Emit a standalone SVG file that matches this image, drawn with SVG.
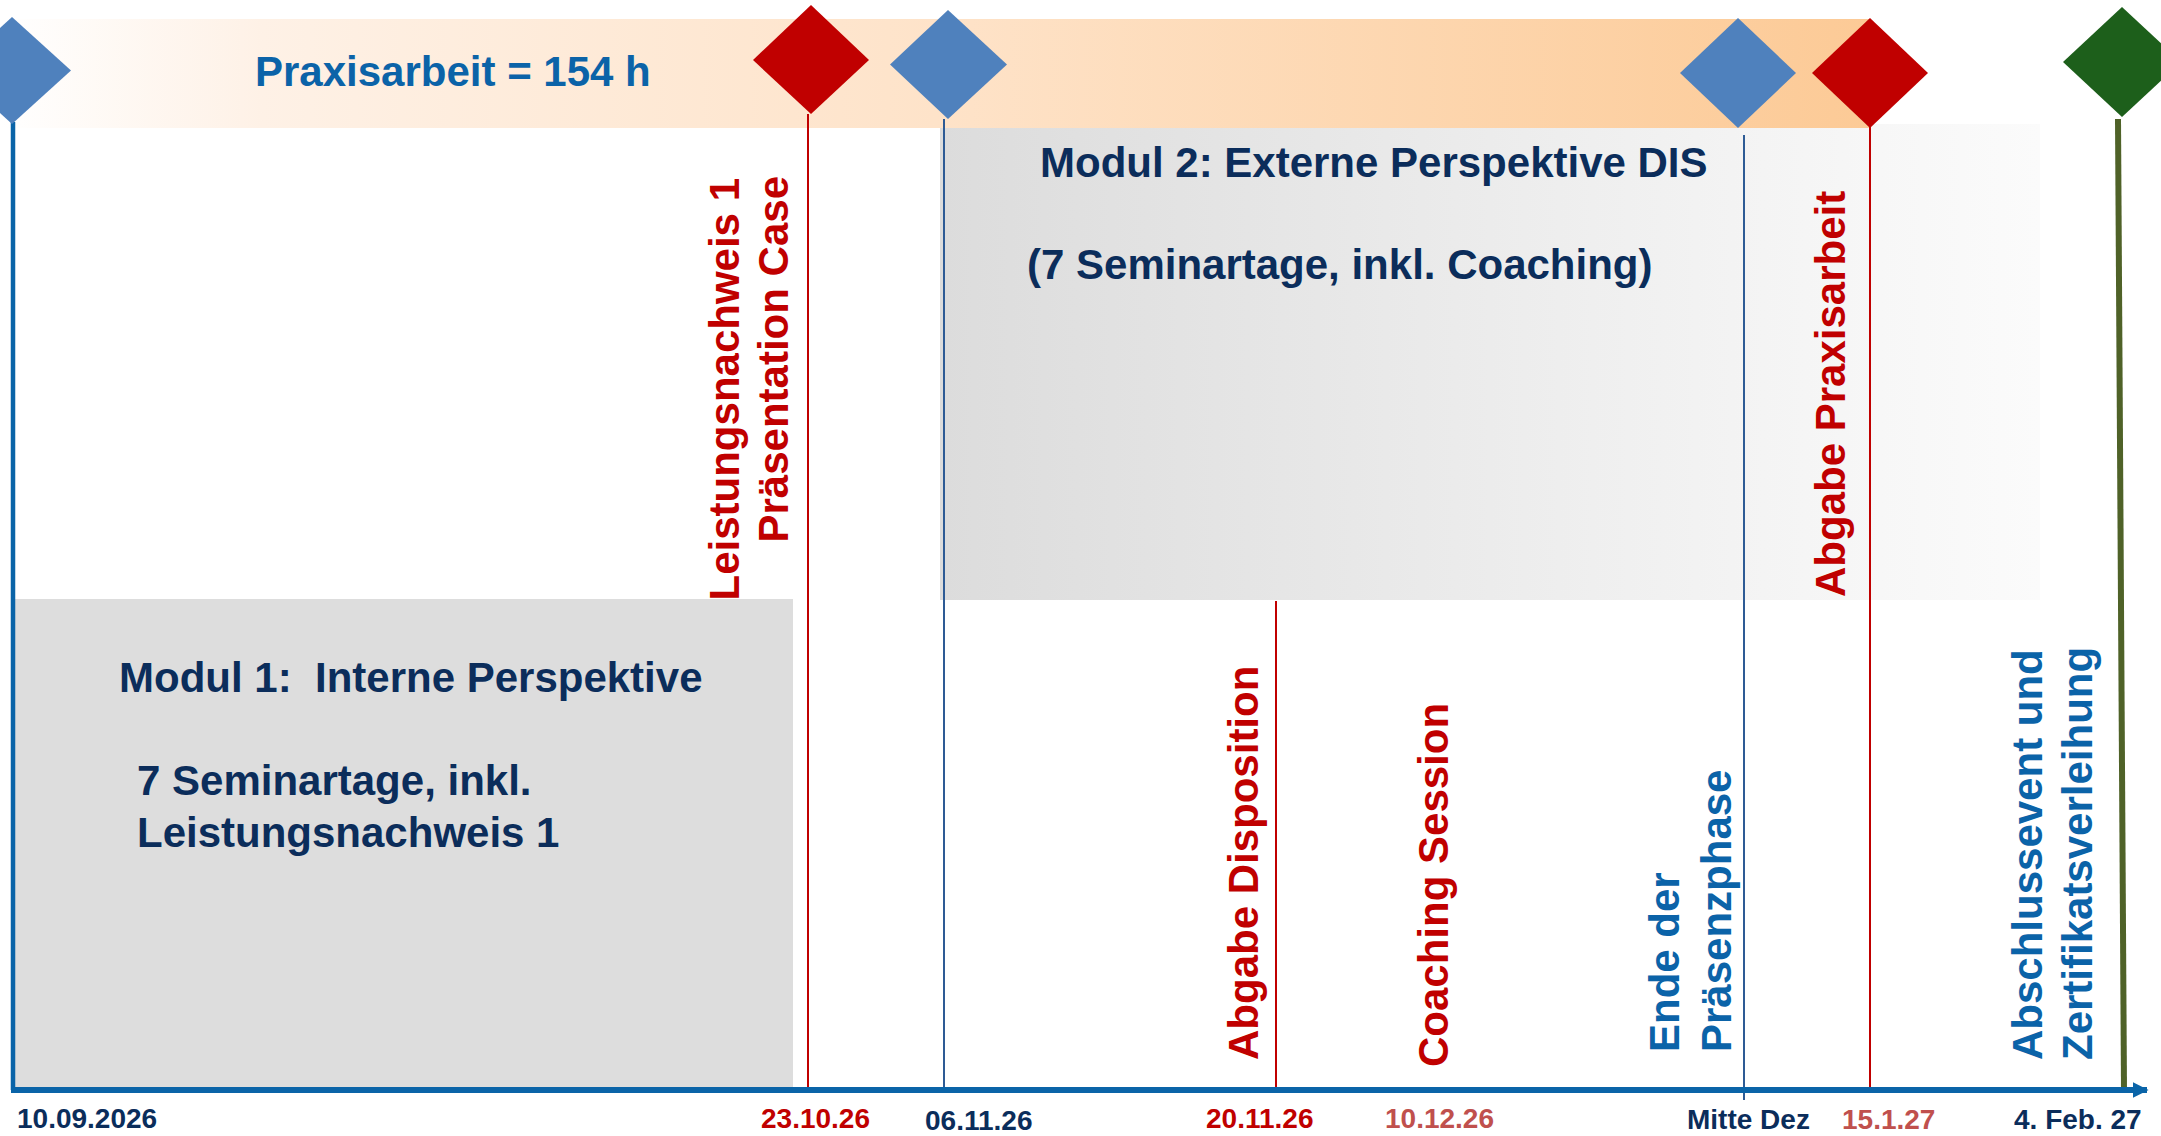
<svg xmlns="http://www.w3.org/2000/svg" width="2161" height="1136" viewBox="0 0 2161 1136">
<defs>
<linearGradient id="band" x1="0" y1="0" x2="1" y2="0">
<stop offset="0" stop-color="#FFFFFF"/>
<stop offset="0.14" stop-color="#FEF1E6"/>
<stop offset="0.5" stop-color="#FEE3C9"/>
<stop offset="1" stop-color="#FCCA96"/>
</linearGradient>
<linearGradient id="mod2" x1="0" y1="0" x2="1" y2="0">
<stop offset="0" stop-color="#DCDCDC"/>
<stop offset="0.75" stop-color="#F4F4F4"/>
<stop offset="1" stop-color="#FBFBFB"/>
</linearGradient>
<marker id="arr" viewBox="0 0 10 10" refX="9" refY="5" markerWidth="2.6" markerHeight="2.8" orient="auto" markerUnits="strokeWidth">
<path d="M0,0 L10,5 L0,10 z" fill="#0A64A8"/>
</marker>
<style>
text{font-family:"Liberation Sans",Arial,sans-serif;font-weight:bold}
.big{font-size:42px}
.date{font-size:28px}
.navy{fill:#0B2D5B}
.red{fill:#C00000}
.lred{fill:#C0504D}
.blue{fill:#0B63A8}
.dblue{fill:#4F81BD}
.dred{fill:#C00000}
.dgreen{fill:#1D5F1B}
.vred{stroke:#C00000;stroke-width:2;fill:none}
.vblue{stroke:#2E5B95;stroke-width:2;fill:none}
</style>
</defs>
<rect width="2161" height="1136" fill="#FFFFFF"/>

<g id="modul2">
<rect x="940" y="124" width="1100" height="476" fill="url(#mod2)"/>
<text class="big navy" x="1040" y="177">Modul 2: Externe Perspektive DIS</text>
<text class="big navy" x="1027" y="279">(7 Seminartage, inkl. Coaching)</text>
</g>

<g id="band-praxis">
<rect x="0" y="19" width="1870" height="109" fill="url(#band)"/>
<text class="big blue" x="255" y="86">Praxisarbeit = 154 h</text>
</g>

<g id="modul1">
<rect x="14" y="599" width="779" height="488" fill="#DDDDDD"/>
<text class="big navy" x="119" y="692" xml:space="preserve">Modul 1:  Interne Perspektive</text>
<text class="big navy" x="137" y="795">7 Seminartage, inkl.</text>
<text class="big navy" x="137" y="847">Leistungsnachweis 1</text>
</g>

<g id="connectors">
<line x1="13" y1="122" x2="13" y2="1090" stroke="#0A64A8" stroke-width="4.5"/>
<line class="vred" x1="808" y1="114" x2="808" y2="1090"/>
<line class="vblue" x1="944" y1="119" x2="944" y2="1090"/>
<line class="vred" x1="1276" y1="601" x2="1276" y2="1090"/>
<line class="vblue" x1="1744" y1="135" x2="1744" y2="1100" stroke-width="1.6"/>
<line class="vred" x1="1870" y1="127" x2="1870" y2="1090"/>
<line x1="2118" y1="119" x2="2124" y2="1090" stroke="#4F6228" stroke-width="6"/>
<line x1="11" y1="1090" x2="2147" y2="1090" stroke="#0A64A8" stroke-width="6" marker-end="url(#arr)"/>
</g>

<g id="m-start"><polygon class="dblue" points="12,17 71,70.5 12,124 -47,70.5"/></g>
<g id="m-ln1"><polygon class="dred" points="811,5 869,60 811,114 753,60"/></g>
<g id="m-mod2"><polygon class="dblue" points="948,10 1007,64.5 948,119 890,64.5"/></g>
<g id="m-ende"><polygon class="dblue" points="1738,18 1796,73 1738,128 1680,73"/></g>
<g id="m-abgabe"><polygon class="dred" points="1870,18 1928,73 1870,128 1812,73"/></g>
<g id="m-abschluss"><polygon class="dgreen" points="2122,7 2181,62 2122,117 2063,62"/></g>

<g id="lbl-ln1">
<text class="big red" text-anchor="end" transform="translate(739,178) rotate(-90)">Leistungsnachweis 1</text>
<text class="big red" text-anchor="end" transform="translate(788,176) rotate(-90)">Präsentation Case</text>
</g>
<g id="lbl-abgabe-praxis">
<text class="big red" transform="translate(1845,597) rotate(-90)">Abgabe Praxisarbeit</text>
</g>
<g id="lbl-disposition">
<text class="big red" transform="translate(1258,1060) rotate(-90)">Abgabe Disposition</text>
</g>
<g id="lbl-coaching">
<text class="big red" transform="translate(1448,1067) rotate(-90)">Coaching Session</text>
</g>
<g id="lbl-ende">
<text class="big blue" transform="translate(1679,1052) rotate(-90)">Ende der</text>
<text class="big blue" transform="translate(1731,1052) rotate(-90)">Präsenzphase</text>
</g>
<g id="lbl-abschluss">
<text class="big blue" transform="translate(2042,1060) rotate(-90)">Abschlussevent und</text>
<text class="big blue" transform="translate(2092,1060) rotate(-90)">Zertifikatsverleihung</text>
</g>

<g id="dates">
<text class="date navy" x="17" y="1128">10.09.2026</text>
<text class="date red" x="761" y="1128">23.10.26</text>
<text class="date navy" x="925" y="1130">06.11.26</text>
<text class="date red" x="1206" y="1128">20.11.26</text>
<text class="date lred" x="1385" y="1128">10.12.26</text>
<text class="date navy" x="1687" y="1129">Mitte Dez</text>
<text class="date lred" x="1842" y="1129">15.1.27</text>
<text class="date navy" x="2014" y="1129">4. Feb. 27</text>
</g>
</svg>
